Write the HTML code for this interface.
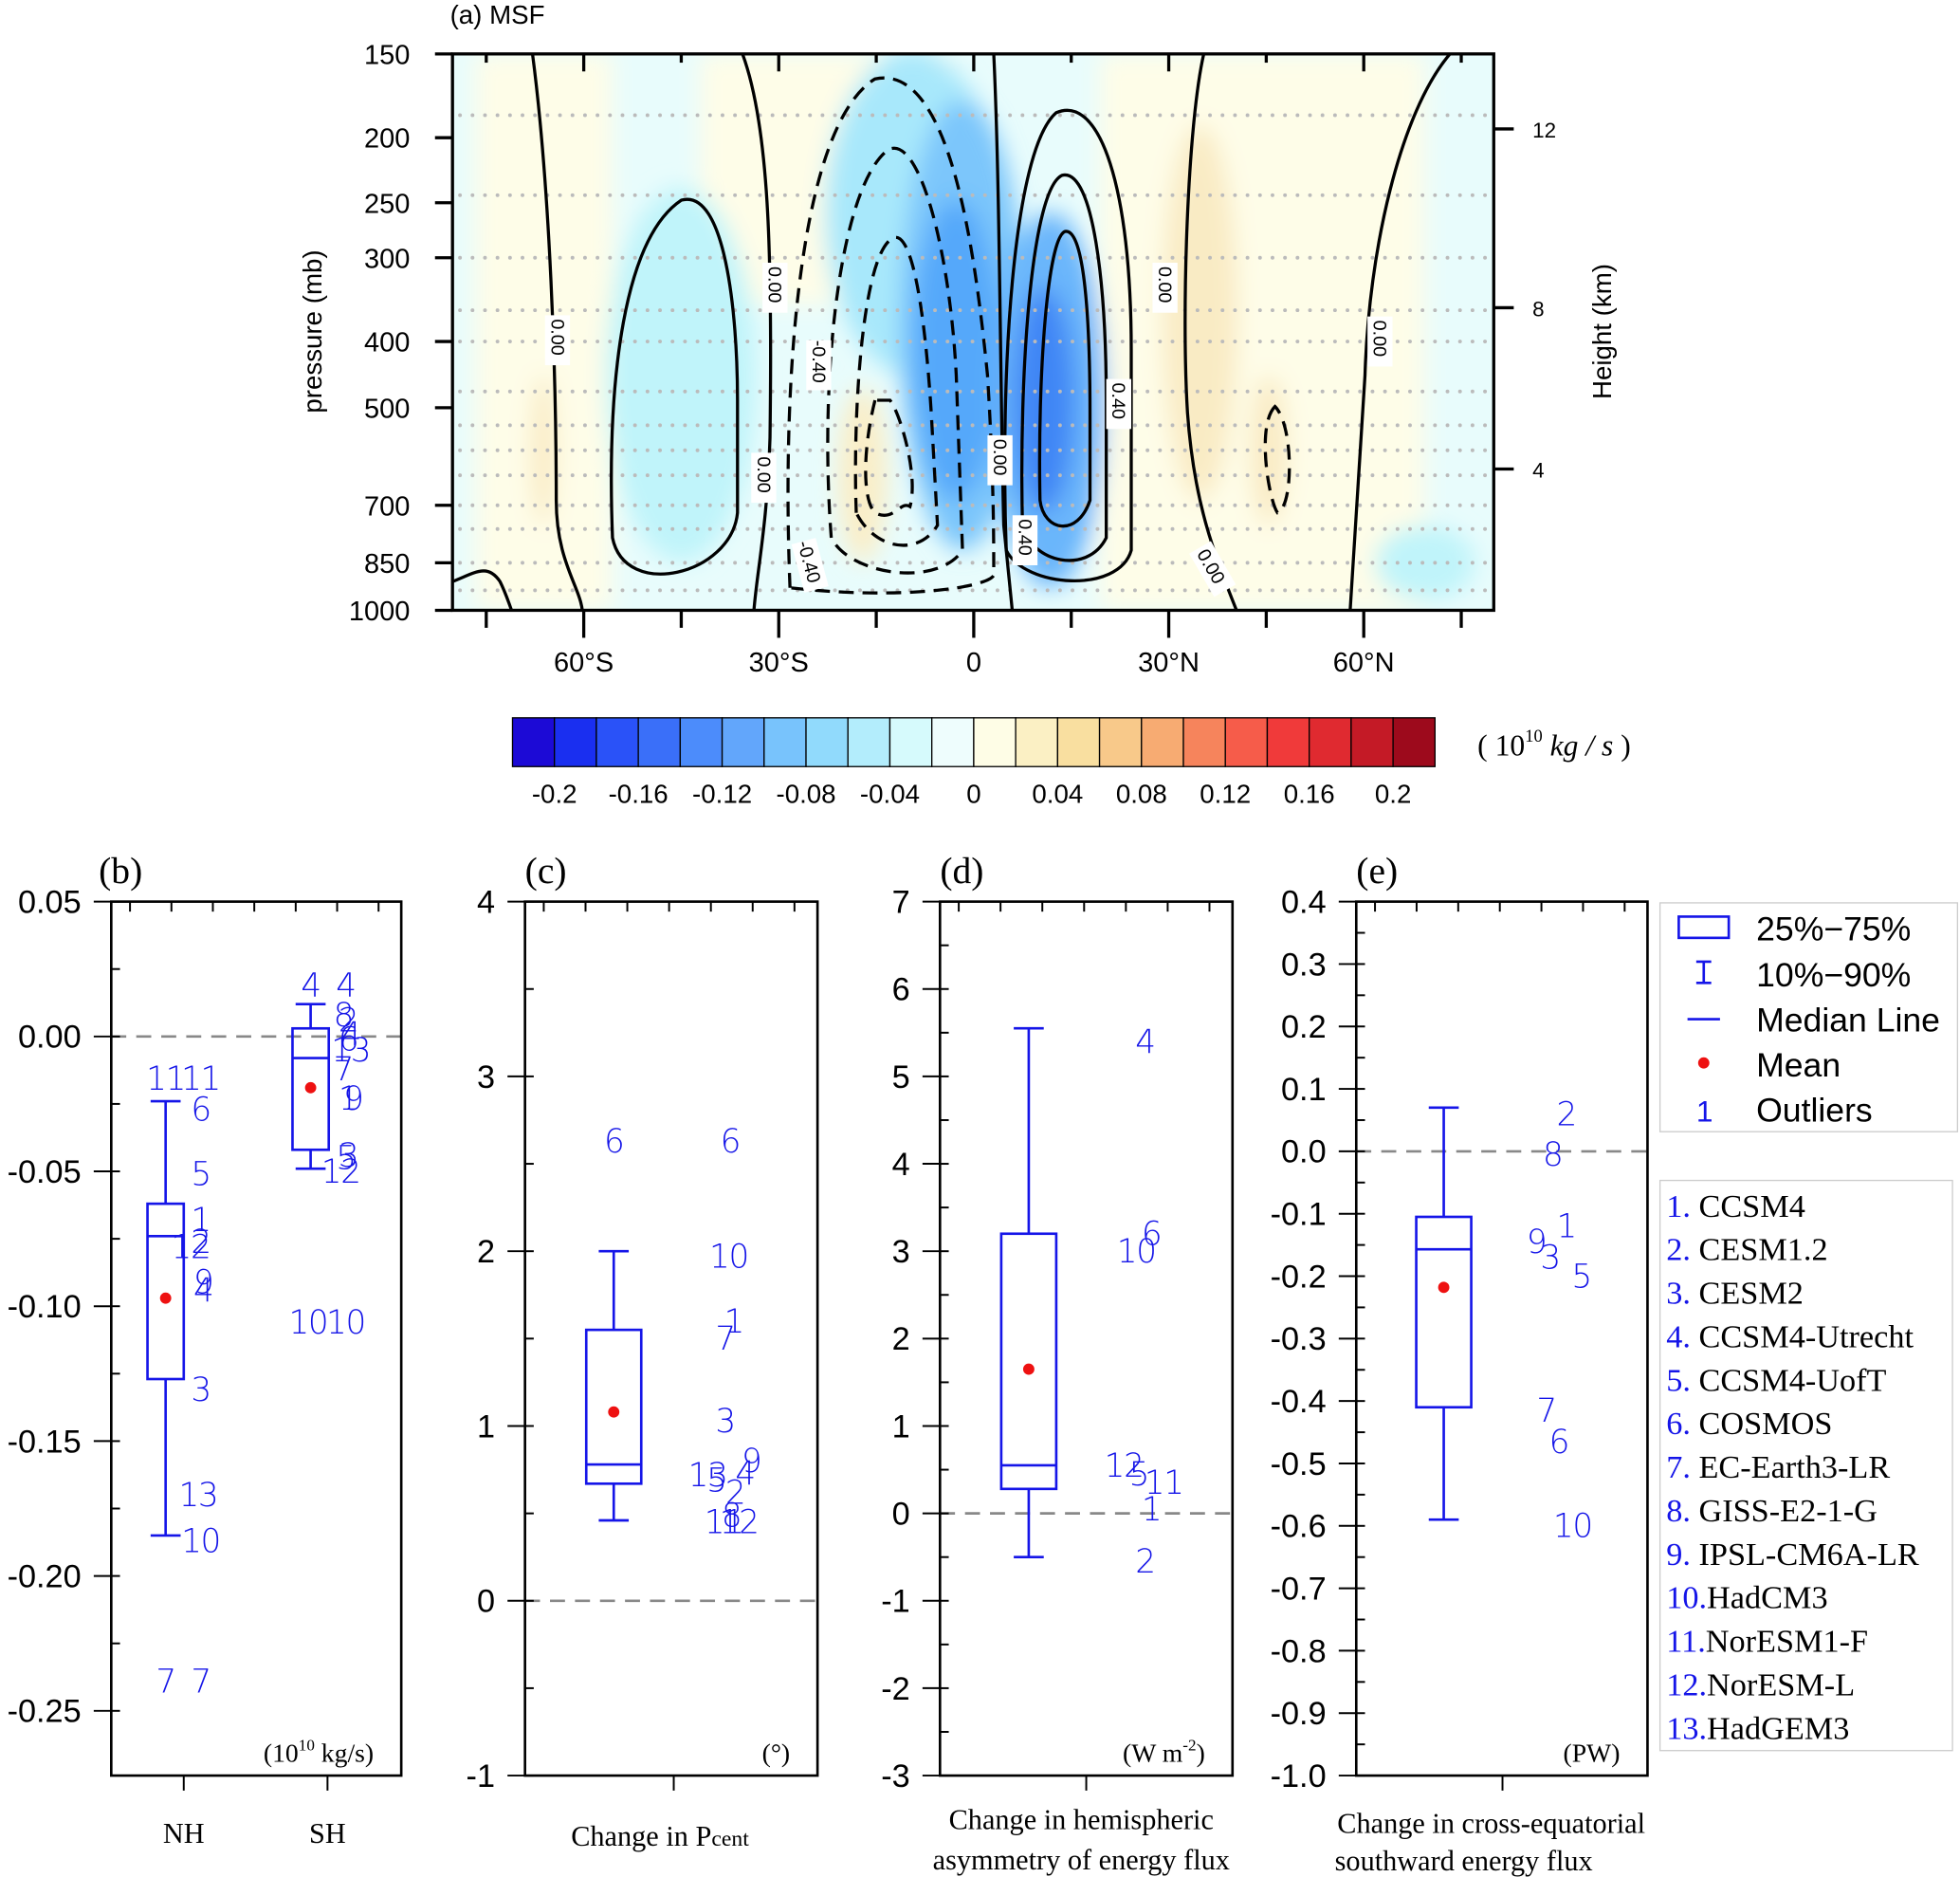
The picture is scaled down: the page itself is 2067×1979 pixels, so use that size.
<!DOCTYPE html>
<html><head><meta charset="utf-8">
<style>
html,body{margin:0;padding:0;background:#fff;}
svg{display:block;}
.sans{font-family:"Liberation Sans",sans-serif;}
.serif{font-family:"Liberation Serif",serif;}
</style></head>
<body>
<svg id="fig" width="2067" height="1979" viewBox="0 0 1568 1501" xmlns="http://www.w3.org/2000/svg">
<defs>
<filter id="blur" x="-50%" y="-50%" width="200%" height="200%"><feGaussianBlur stdDeviation="9"/></filter>
<clipPath id="clipA"><rect x="362" y="43" width="833" height="445"/></clipPath>
</defs>

<g id="panelA">
<text x="360" y="19" class="sans" font-size="21">(a) MSF</text>
<g clip-path="url(#clipA)">
<rect x="362" y="43" width="833" height="445" fill="#e8fcfc"/>
<g filter="url(#blur)">
<rect x="380" y="43" width="110" height="445" fill="#fefde8"/>
<rect x="560" y="43" width="200" height="200" fill="#fefde8"/>
<rect x="880" y="43" width="260" height="445" fill="#fefde8"/>
<ellipse cx="960" cy="250" rx="30" ry="150" fill="#f9ebc4"/>
<ellipse cx="1015" cy="360" rx="15" ry="60" fill="#f9ebc4"/>
<ellipse cx="435" cy="360" rx="10" ry="60" fill="#f9ebc4"/>
<ellipse cx="690" cy="380" rx="20" ry="70" fill="#faeec8"/>
<ellipse cx="545" cy="300" rx="60" ry="150" fill="#c0f4fa"/>
<ellipse cx="730" cy="170" rx="70" ry="130" fill="#a8e8fb"/>
<ellipse cx="770" cy="260" rx="50" ry="180" fill="#7cc6fb"/>
<ellipse cx="765" cy="280" rx="35" ry="120" fill="#55a8fa"/>
<ellipse cx="840" cy="320" rx="45" ry="150" fill="#6ab6fb"/>
<ellipse cx="835" cy="320" rx="25" ry="90" fill="#3f86f5"/>
<ellipse cx="1140" cy="450" rx="40" ry="30" fill="#c0f4fa"/>
</g>
</g>
<g id="dots" stroke="#bbbbbb" stroke-width="3" stroke-linecap="round" stroke-dasharray="0 10" clip-path="url(#clipA)"></g>
<g fill="none" stroke="#000" stroke-width="2.5" clip-path="url(#clipA)">
<path d="M426 43 C440 150 445 300 445 400 C445 450 465 470 466 490"/>
<path d="M362 465 C380 458 390 450 400 465 C405 475 408 485 410 490"/>
<path d="M490 430 C485 300 500 190 545 160 C580 150 590 250 590 320 L590 410 C585 460 500 480 490 430Z"/>
<path d="M594 43 C615 100 618 200 616 350 C614 420 605 460 603 490"/>
<path d="M795 43 C800 150 800 300 803 420 L810 490"/>
<path d="M805 440 C800 300 810 120 845 90 C880 75 905 150 905 280 L905 440 C895 475 820 470 805 440Z"/>
<path d="M818 420 C815 300 825 150 850 140 C875 135 885 230 885 320 L885 430 C870 460 825 450 818 420Z"/>
<path d="M832 400 C830 300 838 190 852 185 C868 182 872 260 872 330 L872 400 C862 430 835 425 832 400Z"/>
<path d="M963 43 C950 100 945 250 950 330 C955 400 970 440 990 490"/>
<path d="M1160 43 C1120 90 1095 200 1092 300 L1080 490"/>
</g>
<g fill="none" stroke="#000" stroke-width="2.5" stroke-dasharray="12 7" clip-path="url(#clipA)">
<path d="M632 470 C625 300 640 100 700 63 C760 50 780 200 790 300 C795 380 795 430 795 460 C790 470 720 480 632 470Z"/>
<path d="M665 430 C655 300 672 150 710 120 C735 105 760 200 765 300 L770 440 C750 470 680 460 665 430Z"/>
<path d="M685 410 C682 330 690 200 715 190 C730 185 740 250 745 330 L750 420 C735 445 700 440 685 410Z"/>
<path d="M700 320 C690 360 690 400 700 410 C715 418 720 400 728 405 C735 380 720 330 712 320Z"/>
<path d="M1020 325 C1005 340 1015 400 1022 410 C1035 405 1035 340 1020 325Z"/>
</g>
<g class="sans" font-size="15">
<g transform="translate(446,272) rotate(90)"><rect x="-20" y="-10" width="40" height="20" fill="#fff"/><text x="-17" y="5">0.00</text></g>
<g transform="translate(620,230) rotate(90)"><rect x="-20" y="-10" width="40" height="20" fill="#fff"/><text x="-17" y="5">0.00</text></g>
<g transform="translate(611,382) rotate(90)"><rect x="-20" y="-10" width="40" height="20" fill="#fff"/><text x="-17" y="5">0.00</text></g>
<g transform="translate(655,292) rotate(90)"><rect x="-20" y="-10" width="40" height="20" fill="#fff"/><text x="-20" y="5">-0.40</text></g>
<g transform="translate(648,452) rotate(75)"><rect x="-20" y="-10" width="40" height="20" fill="#fff"/><text x="-20" y="5">-0.40</text></g>
<g transform="translate(800,368) rotate(90)"><rect x="-20" y="-10" width="40" height="20" fill="#fff"/><text x="-17" y="5">0.00</text></g>
<g transform="translate(820,432) rotate(90)"><rect x="-20" y="-10" width="40" height="20" fill="#fff"/><text x="-17" y="5">0.40</text></g>
<g transform="translate(895,323) rotate(90)"><rect x="-20" y="-10" width="40" height="20" fill="#fff"/><text x="-17" y="5">0.40</text></g>
<g transform="translate(932,230) rotate(90)"><rect x="-20" y="-10" width="40" height="20" fill="#fff"/><text x="-17" y="5">0.00</text></g>
<g transform="translate(970,455) rotate(60)"><rect x="-20" y="-10" width="40" height="20" fill="#fff"/><text x="-17" y="5">0.00</text></g>
<g transform="translate(1104,273) rotate(90)"><rect x="-20" y="-10" width="40" height="20" fill="#fff"/><text x="-17" y="5">0.00</text></g>
</g>
<rect x="362" y="43" width="833" height="445" fill="none" stroke="#000" stroke-width="2.5"/>
<g id="axA" class="sans"></g>
<text transform="translate(257,265) rotate(-90)" text-anchor="middle" class="sans" font-size="21">pressure (mb)</text>
<text transform="translate(1289,265) rotate(-90)" text-anchor="middle" class="sans" font-size="21">Height (km)</text>
</g>

<g id="cbar"></g>
<text x="1182" y="604" class="serif" font-size="24">( 10<tspan font-size="14" dy="-11">10</tspan><tspan dy="11" font-style="italic"> kg</tspan> <tspan font-style="italic">/ s</tspan> )</text>

<g id="boxes"></g>

<g class="sans" font-size="27">
<rect x="1328" y="722" width="238" height="183" fill="#fff" stroke="#ccc" stroke-width="1"/>
<rect x="1343" y="733" width="40" height="17" fill="none" stroke="#1515e8" stroke-width="2"/>
<text x="1405" y="752">25%−75%</text>
<path d="M1357 769 H1369 M1363 769 V786 M1357 786 H1369" stroke="#1515e8" stroke-width="2" fill="none"/>
<text x="1405" y="789">10%−90%</text>
<line x1="1350" y1="815" x2="1376" y2="815" stroke="#1515e8" stroke-width="2"/>
<text x="1405" y="825">Median Line</text>
<circle cx="1363" cy="850" r="4.5" fill="#ee1111"/>
<text x="1405" y="861">Mean</text>
<text x="1357" y="897" fill="#1515e8" font-size="24">1</text>
<text x="1405" y="897">Outliers</text>
</g>
<g class="serif" font-size="26">
<rect x="1328" y="944" width="234" height="456" fill="#fff" stroke="#ccc" stroke-width="1"/>
<g id="models"></g>
</g>
</svg>

<script>
var NS='http://www.w3.org/2000/svg';
function mk(tag,attrs,parent){var e=document.createElementNS(NS,tag);for(var k in attrs)e.setAttribute(k,attrs[k]);(parent||document.getElementById('fig')).appendChild(e);return e;}
var BLUE='#1515e8';

var pLevels=[150,200,250,300,400,500,700,850,1000];
var pPix=[43,110,162,206,273,326,404,450,488];
var latTicks=[-60,-30,0,30,60];
var latLabels=['60°S','30°S','0','30°N','60°N'];
var hTicks=[12,8,4];
var hPix=[103,246,375];
function xLat(l){return 779+l*5.2;}
var axA=document.getElementById('axA');
for(var i=0;i<pLevels.length;i++){
 var l=mk('line',{x1:348,x2:362,y1:pPix[i],y2:pPix[i],stroke:'#000','stroke-width':2.5},axA);
 
 
 var t=mk('text',{x:328,y:pPix[i]+8,'text-anchor':'end','font-size':22},axA);t.textContent=pLevels[i];
 
 
}
for(var lat=-75;lat<=75;lat+=15){
 var big=(lat%30===0);
 mk('line',{x1:xLat(lat),x2:xLat(lat),y1:43,y2:big?57:50,stroke:'#000','stroke-width':2.5},axA);
 mk('line',{x1:xLat(lat),x2:xLat(lat),y1:488,y2:big?510:502,stroke:'#000','stroke-width':2.5},axA);
}
for(var i=0;i<latTicks.length;i++){
 var t=mk('text',{x:xLat(latTicks[i]),y:537,'text-anchor':'middle','font-size':22},axA);t.textContent=latLabels[i];
 
 
}
for(var i=0;i<hTicks.length;i++){
 mk('line',{x1:1195,x2:1211,y1:hPix[i],y2:hPix[i],stroke:'#000','stroke-width':2.5},axA);
 var t=mk('text',{x:1226,y:hPix[i]+7,'font-size':17},axA);t.textContent=hTicks[i];
 
 
}
var dotRows=[92,156,206,248,273,313,340,360,380,404,423,450,472];
var dg=document.getElementById('dots');
dotRows.forEach(function(y){mk('line',{x1:368,x2:1195,y1:y,y2:y},dg);});

var cbColors=['#1c0ad6','#1a2ff0','#2a52f8','#3a6ff9','#4c8cfb','#62a6fb','#78c3fc','#91dafc','#b3edfc','#d6fafc','#eefdfd','#fefde6','#fbf0c4','#f9dfa0','#f8c98a','#f7ab72','#f6845c','#f65c4a','#f03a3a','#e02a30','#c41a26','#9d0a1c'];
var cbLabels=['-0.2','-0.16','-0.12','-0.08','-0.04','0','0.04','0.08','0.12','0.16','0.2'];
var cb=document.getElementById('cbar');
var cw=(1148-410)/cbColors.length;
for(var i=0;i<cbColors.length;i++){
 var r=mk('rect',{x:410+i*cw,y:574,width:cw,height:39,fill:cbColors[i],stroke:'#000','stroke-width':1},cb);
 
 
}
for(var i=0;i<cbLabels.length;i++){
 var t=mk('text',{x:410+(2*i+1)*cw,y:642,'text-anchor':'middle','font-size':21,'font-family':'Liberation Sans'},cb);t.textContent=cbLabels[i];
 
 
}

var statsNH=[-0.185,-0.127,-0.074,-0.062,-0.024,-0.097];
var statsSH=[-0.049,-0.042,-0.008,0.003,0.012,-0.019];
var statsC=[0.46,0.67,0.78,1.55,2.0,1.08];
var statsD=[-0.5,0.28,0.55,3.2,5.55,1.65];
var statsE=[-0.59,-0.41,-0.157,-0.105,0.07,-0.218];
var outNH=[['11',-0.0155,0],['11',-0.0155,28],['6',-0.027,28],['5',-0.051,28],['1',-0.068,28],['12',-0.078,20],['2',-0.076,28],['9',-0.091,30],['4',-0.094,30],['3',-0.131,28],['13',-0.170,26],['10',-0.187,28],['7',-0.239,0],['7',-0.239,28]];
var outSH=[['4',0.019,0],['4',0.019,28],['8',0.008,26],['2',0.006,30],['4',0.001,32],['6',-0.001,30],['13',-0.005,32],['7',-0.012,26],['1',-0.023,30],['9',-0.023,34],['5',-0.045,28],['3',-0.044,30],['12',-0.050,24],['10',-0.106,-2],['10',-0.106,28]];
var outC=[['6',2.63,0],['6',2.63,93],['10',1.97,92],['1',1.6,96],['7',1.5,89],['3',1.03,89],['13',0.72,75],['5',0.69,82],['4',0.73,105],['9',0.8,110],['2',0.62,97],['11',0.45,88],['8',0.49,94],['12',0.45,100]];
var outD=[['4',5.4,93],['10',3.0,86],['6',3.2,98],['12',0.55,76],['5',0.45,88],['11',0.35,108],['1',0.05,98],['2',-0.55,93]];
var outE=[['2',0.06,98],['8',-0.005,87],['1',-0.12,98],['9',-0.145,74],['3',-0.17,85],['5',-0.2,110],['7',-0.415,82],['6',-0.465,92],['10',-0.6,103]];

var panels=[
 {name:'b',x0:89,x1:321,vmax:0.05,vmin:-0.274,ticks:[0.05,0,-0.05,-0.1,-0.15,-0.2,-0.25],labels:['0.05','0.00','-0.05','-0.10','-0.15','-0.20','-0.25'],minor:0.025,hw:14.5,boxes:[[132.5,statsNH,outNH],[248.5,statsSH,outSH]],xt:[147,262],xl:['NH','SH'],unit:'(10<tspan font-size="13" dy="-9">10</tspan><tspan dy="9"> kg/s)</tspan>'},
 {name:'c',x0:420,x1:654,vmax:4,vmin:-1,ticks:[4,3,2,1,0,-1],labels:['4','3','2','1','0','-1'],minor:0.5,hw:22,boxes:[[491,statsC,outC]],xt:[539],xl:[],unit:'(°)'},
 {name:'d',x0:752,x1:986,vmax:7,vmin:-3,ticks:[7,6,5,4,3,2,1,0,-1,-2,-3],labels:['7','6','5','4','3','2','1','0','-1','-2','-3'],minor:0.5,hw:22,boxes:[[823,statsD,outD]],xt:[869],xl:[],unit:'(W m<tspan font-size="13" dy="-9">-2</tspan><tspan dy="9">)</tspan>'},
 {name:'e',x0:1085,x1:1318,vmax:0.4,vmin:-1.0,ticks:[0.4,0.3,0.2,0.1,0,-0.1,-0.2,-0.3,-0.4,-0.5,-0.6,-0.7,-0.8,-0.9,-1.0],labels:['0.4','0.3','0.2','0.1','0.0','-0.1','-0.2','-0.3','-0.4','-0.5','-0.6','-0.7','-0.8','-0.9','-1.0'],minor:0.05,hw:22,boxes:[[1155,statsE,outE]],xt:[1202],xl:[],unit:'(PW)'}
];
var bx=document.getElementById('boxes');
var Y0=721,Y1=1420;
panels.forEach(function(p){
 var g=mk('g',{},bx);
 
 
 function y(v){return Y0+(p.vmax-v)/(p.vmax-p.vmin)*(Y1-Y0);}
 var z=mk('line',{x1:p.x0,x2:p.x1,y1:y(0),y2:y(0),stroke:'#888','stroke-width':2,'stroke-dasharray':'12 8'},g);
 
 
 var nmin=Math.ceil(p.vmin/p.minor-1e-6), nmax=Math.floor(p.vmax/p.minor+1e-6);
 for(var n=nmin;n<=nmax;n++){
  var vv=n*p.minor;
  mk('line',{x1:p.x0,x2:p.x0+7,y1:y(vv),y2:y(vv),stroke:'#000','stroke-width':1.5},g);
 }
 for(var i=0;i<p.ticks.length;i++){
  mk('line',{x1:p.x0-14,x2:p.x0,y1:y(p.ticks[i]),y2:y(p.ticks[i]),stroke:'#000','stroke-width':1.5},g);
  var t=mk('text',{x:p.x0-24,y:y(p.ticks[i])+9,'text-anchor':'end','font-size':26,'font-family':'Liberation Sans'},g);t.textContent=p.labels[i];
  
  
 }
 for(var k=0;k<7;k++){
  var xx=p.x0+15+k*(p.x1-p.x0)/7;
  mk('line',{x1:xx,x2:xx,y1:Y0,y2:Y0+8,stroke:'#000','stroke-width':1.5},g);
 }
 p.xt.forEach(function(xx){mk('line',{x1:xx,x2:xx,y1:Y1,y2:Y1+12,stroke:'#000','stroke-width':1.5},g);});
 p.xl.forEach(function(s,i){var t=mk('text',{x:p.xt[i],y:1474,'text-anchor':'middle','font-size':23,'font-family':'Liberation Serif'},g);t.textContent=s;});
 var fr=mk('rect',{x:p.x0,y:Y0,width:p.x1-p.x0,height:Y1-Y0,fill:'none',stroke:'#000','stroke-width':2},g);
 
 
 var tt=mk('text',{x:p.x0+(p.name==='b'?-10:0),y:706,'font-size':30,'font-family':'Liberation Serif'},g);tt.textContent='('+p.name+')';
 
 
 var u=mk('text',{x:p.x1-22,y:1409,'text-anchor':'end','font-size':21,'font-family':'Liberation Serif'},g);u.innerHTML=p.unit;
 p.boxes.forEach(function(b){
  var cx=b[0],s=b[1],hw=p.hw;
  var bg=mk('g',{stroke:BLUE,'stroke-width':2,fill:'none'},g);
  
  
  mk('line',{x1:cx,x2:cx,y1:y(s[4]),y2:y(s[3])},bg);
  mk('line',{x1:cx,x2:cx,y1:y(s[1]),y2:y(s[0])},bg);
  mk('line',{x1:cx-12,x2:cx+12,y1:y(s[4]),y2:y(s[4])},bg);
  mk('line',{x1:cx-12,x2:cx+12,y1:y(s[0]),y2:y(s[0])},bg);
  mk('rect',{x:cx-hw,y:y(s[3]),width:2*hw,height:y(s[1])-y(s[3])},bg);
  mk('line',{x1:cx-hw,x2:cx+hw,y1:y(s[2]),y2:y(s[2])},bg);
  var m=mk('circle',{cx:cx,cy:y(s[5]),r:4.5,fill:'#ee1111',stroke:'none'},g);
  
  
  b[2].forEach(function(o){
   var t=mk('text',{x:cx+o[2],y:y(o[1])+9,'text-anchor':'middle','font-size':26,fill:BLUE,'font-family':'DejaVu Sans','font-weight':'200',style:'letter-spacing:-1px'},g);
   t.textContent=o[0];
   
   
  });
 });
});
function addText(x,y,html,name){var t=mk('text',{x:x,y:y,'text-anchor':'middle','font-size':23,'font-family':'Liberation Serif'},bx);t.innerHTML=html;
 
 }
addText(528,1476,'Change in P<tspan font-size="18">cent</tspan>','x-axis-title-c');
addText(865,1463,'Change in hemispheric','x-axis-title-d');
addText(865,1495,'asymmetry of energy flux','x-axis-title-d2');
addText(1193,1466,'Change in cross-equatorial','x-axis-title-e');
addText(1171,1496,'southward energy flux','x-axis-title-e2');

var models=['CCSM4','CESM1.2','CESM2','CCSM4-Utrecht','CCSM4-UofT','COSMOS','EC-Earth3-LR','GISS-E2-1-G','IPSL-CM6A-LR','HadCM3','NorESM1-F','NorESM-L','HadGEM3'];
var mg=document.getElementById('models');
models.forEach(function(m,i){
 var yy=973+i*34.8;
 var t=mk('text',{x:1333,y:yy},mg);
 t.innerHTML='<tspan fill="'+BLUE+'">'+(i+1)+'.</tspan>'+(i<9?' ':'')+m;
 
 
});
</script>
</body></html>
